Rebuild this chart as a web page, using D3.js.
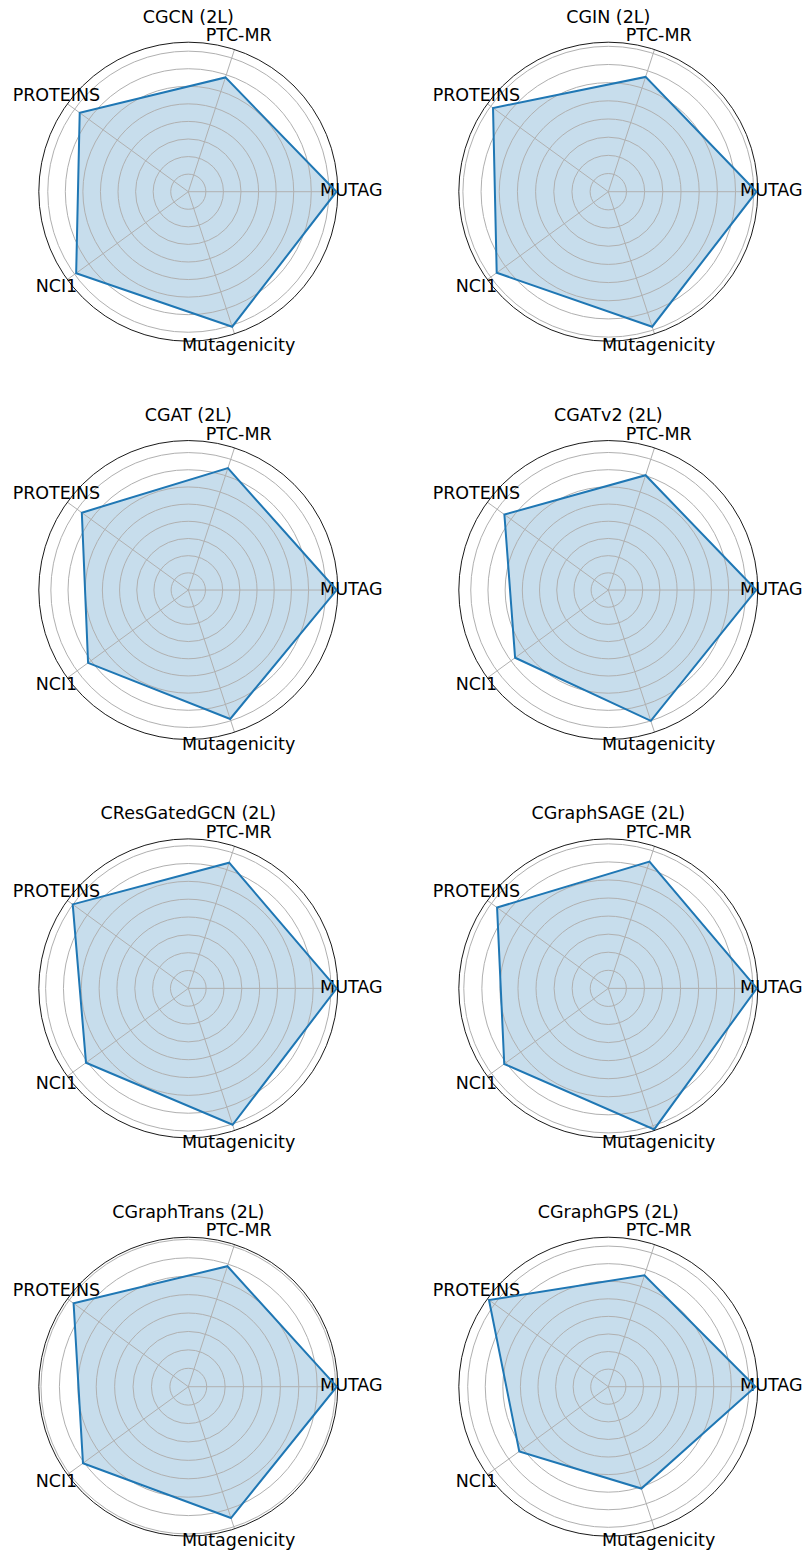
<!DOCTYPE html>
<html>
<head>
<meta charset="utf-8">
<script src="https://cdn.jsdelivr.net/npm/d3@7"></script>
<style>
  body { margin: 0; background: #fff; }
  text { font-family: "DejaVu Sans", sans-serif; fill: #000; }
</style>
</head>
<body>
<div id="radar-viz"><svg></svg></div>
<script>
// datasets on the spokes, counter-clockwise from the right
const datasets = ['MUTAG', 'PTC-MR', 'PROTEINS', 'NCI1', 'Mutagenicity']

// one panel per model, read left to right, top to bottom
const models = [
  'CGCN (2L)', 'CGIN (2L)',
  'CGAT (2L)', 'CGATv2 (2L)',
  'CResGatedGCN (2L)', 'CGraphSAGE (2L)',
  'CGraphTrans (2L)', 'CGraphGPS (2L)'
]

// accuracy per dataset, same order as datasets
const cgcn = [0.843, 0.684, 0.764, 0.789, 0.808]
const cgin = [0.815, 0.664, 0.784, 0.759, 0.781]
const cgat = [0.863, 0.746, 0.766, 0.721, 0.789]
const cgatv2 = [0.860, 0.702, 0.747, 0.670, 0.800]
const cresgatedgcn = [0.832, 0.741, 0.801, 0.709, 0.804]
const cgraphsage = [0.822, 0.738, 0.761, 0.712, 0.821]
const cgraphtrans = [0.806, 0.688, 0.770, 0.707, 0.750]
const cgraphgps = [0.837, 0.666, 0.839, 0.626, 0.609]

const scores = [cgcn, cgin, cgat, cgatv2, cresgatedgcn, cgraphsage, cgraphtrans, cgraphgps]

const width = 803
const height = 1553
const radius = 149.5
const blue = '#1f77b4'

/**
 * Sets the size of the SVG canvas.
 */
function setCanvasSize (width, height) {
  d3.select('#radar-viz').select('svg')
    .attr('width', width)
    .attr('height', height)
}

/**
 * Draws one radar panel centred on (cx, cy).
 */
function drawRadar (svg, cx, cy, title, values) {
  // matplotlib style autoscale: 5% margin over the data span, r starts at 0
  const lo = d3.min(values)
  const hi = d3.max(values)
  const rMax = hi + 0.05 * (hi - lo)

  const r = d3.scaleLinear().domain([0, rMax]).range([0, radius])
  const theta = d3.scaleLinear().domain([0, datasets.length]).range([0, 2 * Math.PI])
  const rings = d3.ticks(0, rMax, 8).filter(t => t > 0 && t < rMax)

  const g = svg.append('g')
    .attr('transform', `translate(${cx},${cy})`)

  const radar = d3.lineRadial()
    .angle((d, i) => Math.PI / 2 - theta(i))
    .radius(d => r(d))
    .curve(d3.curveLinearClosed)

  // filled area
  g.append('path')
    .attr('d', radar(values))
    .attr('fill', blue)
    .attr('fill-opacity', 0.25)
    .attr('stroke', 'none')

  // radial rings
  g.selectAll('circle.ring')
    .data(rings)
    .join('circle')
    .attr('class', 'ring')
    .attr('r', d => r(d))
    .attr('fill', 'none')
    .attr('stroke', '#b0b0b0')
    .attr('stroke-width', 1)

  // spokes
  g.selectAll('line.spoke')
    .data(datasets)
    .join('line')
    .attr('class', 'spoke')
    .attr('x1', 0)
    .attr('y1', 0)
    .attr('x2', (d, i) => radius * Math.cos(theta(i)))
    .attr('y2', (d, i) => -radius * Math.sin(theta(i)))
    .attr('stroke', '#b0b0b0')
    .attr('stroke-width', 1)

  // dataset labels
  g.selectAll('text.label')
    .data(datasets)
    .join('text')
    .attr('class', 'label')
    .attr('x', (d, i) => (radius + 13.5) * Math.cos(theta(i)))
    .attr('y', (d, i) => -(radius + 13.5) * Math.sin(theta(i)))
    .attr('dy', '0.265em')
    .attr('text-anchor', 'middle')
    .style('font-size', '17.5px')
    .text(d => d)

  // outline
  g.append('path')
    .attr('d', radar(values))
    .attr('fill', 'none')
    .attr('stroke', blue)
    .attr('stroke-width', 2)
    .attr('stroke-linejoin', 'miter')

  // outer spine
  g.append('circle')
    .attr('r', radius)
    .attr('fill', 'none')
    .attr('stroke', '#000')
    .attr('stroke-width', 0.9)

  g.append('text')
    .attr('x', 0)
    .attr('y', -169)
    .attr('text-anchor', 'middle')
    .style('font-size', '17.5px')
    .text(title)
}

setCanvasSize(width, height)

const svg = d3.select('#radar-viz').select('svg')

svg.append('rect')
  .attr('width', width)
  .attr('height', height)
  .attr('fill', '#fff')

const colX = d3.scaleLinear().domain([0, 1]).range([188.3, 608.3])
const rowY = d3.scaleLinear().domain([0, 3]).range([191.7, 1386.7])

models.forEach((model, i) => {
  drawRadar(svg, colX(i % 2), rowY(Math.floor(i / 2)), model, scores[i])
})
</script>
</body>
</html>
